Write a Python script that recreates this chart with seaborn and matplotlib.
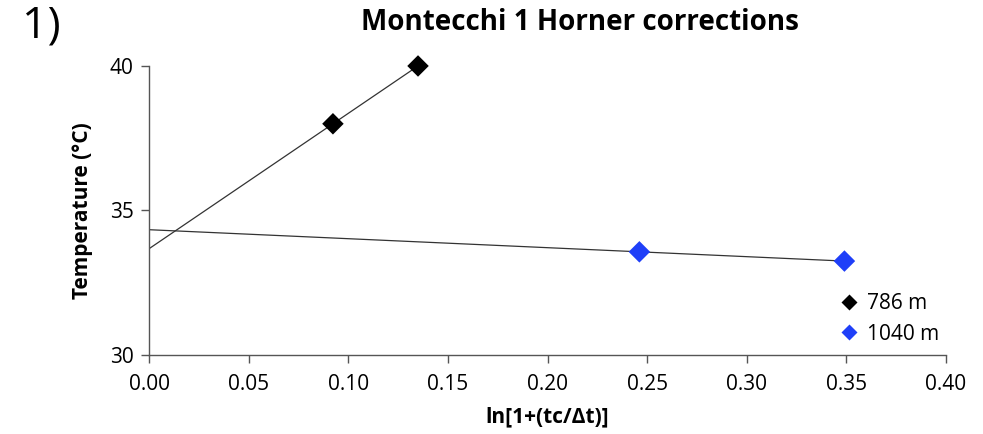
import numpy as np
import pandas as pd
import matplotlib
matplotlib.use("Agg")
import matplotlib.pyplot as plt
import seaborn as sns

# Horner plot data for two depths
depths = ["786 m", "786 m", "1040 m", "1040 m"]
ln_ratio = [0.0923, 0.1350, 0.2461, 0.3490]
temperature = [38.0, 40.0, 33.57, 33.25]
series_order = ["786 m", "1040 m"]
series_colors = ["#000000", "#1f3ff8"]
x_ticks = [0.00, 0.05, 0.10, 0.15, 0.20, 0.25, 0.30, 0.35, 0.40]
y_ticks = [30, 35, 40]

df = pd.DataFrame({"depth": depths, "x": ln_ratio, "T": temperature})

sns.set_theme(style="white")
plt.rcParams["font.family"] = ["Open Sans", "DejaVu Sans"]
plt.rcParams["text.color"] = "black"
plt.rcParams["axes.labelcolor"] = "black"
plt.rcParams["xtick.color"] = "#555555"
plt.rcParams["ytick.color"] = "#555555"
plt.rcParams["xtick.labelcolor"] = "black"
plt.rcParams["ytick.labelcolor"] = "black"

fig = plt.figure(figsize=(9.83, 4.34), dpi=100)
ax = fig.add_axes([0.1516, 0.182, 0.8108, 0.666])

# Linear trend lines from x = 0 to the last point of each depth
for name in series_order:
    sub = df[df["depth"] == name]
    slope, intercept = np.polyfit(sub["x"], sub["T"], 1)
    xs = np.array([0.0, sub["x"].max()])
    ax.plot(xs, intercept + slope * xs, color="#333333", lw=0.9, zorder=1)

sns.scatterplot(data=df, x="x", y="T", hue="depth", hue_order=series_order,
                palette=series_colors, marker="D", s=120, edgecolor="none",
                ax=ax, zorder=3, clip_on=False)

ax.set_xlim(0, 0.40)
ax.set_ylim(30, 40)
ax.set_xticks(x_ticks)
ax.set_xticklabels([f"{v:.2f}" for v in x_ticks])
ax.set_yticks(y_ticks)
ax.tick_params(axis="both", labelsize=15, length=6, width=1,
               direction="out", bottom=True, left=True)
ax.tick_params(axis="x", pad=8)
ax.tick_params(axis="y", pad=5)
for side in ["top", "right"]:
    ax.spines[side].set_visible(False)
for side in ["left", "bottom"]:
    ax.spines[side].set_color("#555555")
    ax.spines[side].set_linewidth(1)

ax.set_xlabel("ln[1+(tc/Δt)]", fontsize=15, fontweight="bold", labelpad=8)
ax.set_ylabel("Temperature (°C)", fontsize=15, fontweight="bold", labelpad=12)

leg = ax.legend(loc="lower right", bbox_to_anchor=(1.005, 0.0), frameon=False,
                fontsize=15, handletextpad=-0.1, borderaxespad=0.1,
                labelspacing=0.45, markerscale=0.75)

fig.text(0.59, 0.948, "Montecchi 1 Horner corrections", ha="center",
         va="center", fontsize=20, fontweight="bold")
fig.text(0.022, 0.94, "1)", ha="left", va="center", fontsize=32)

fig.savefig("out.png", dpi=100)
